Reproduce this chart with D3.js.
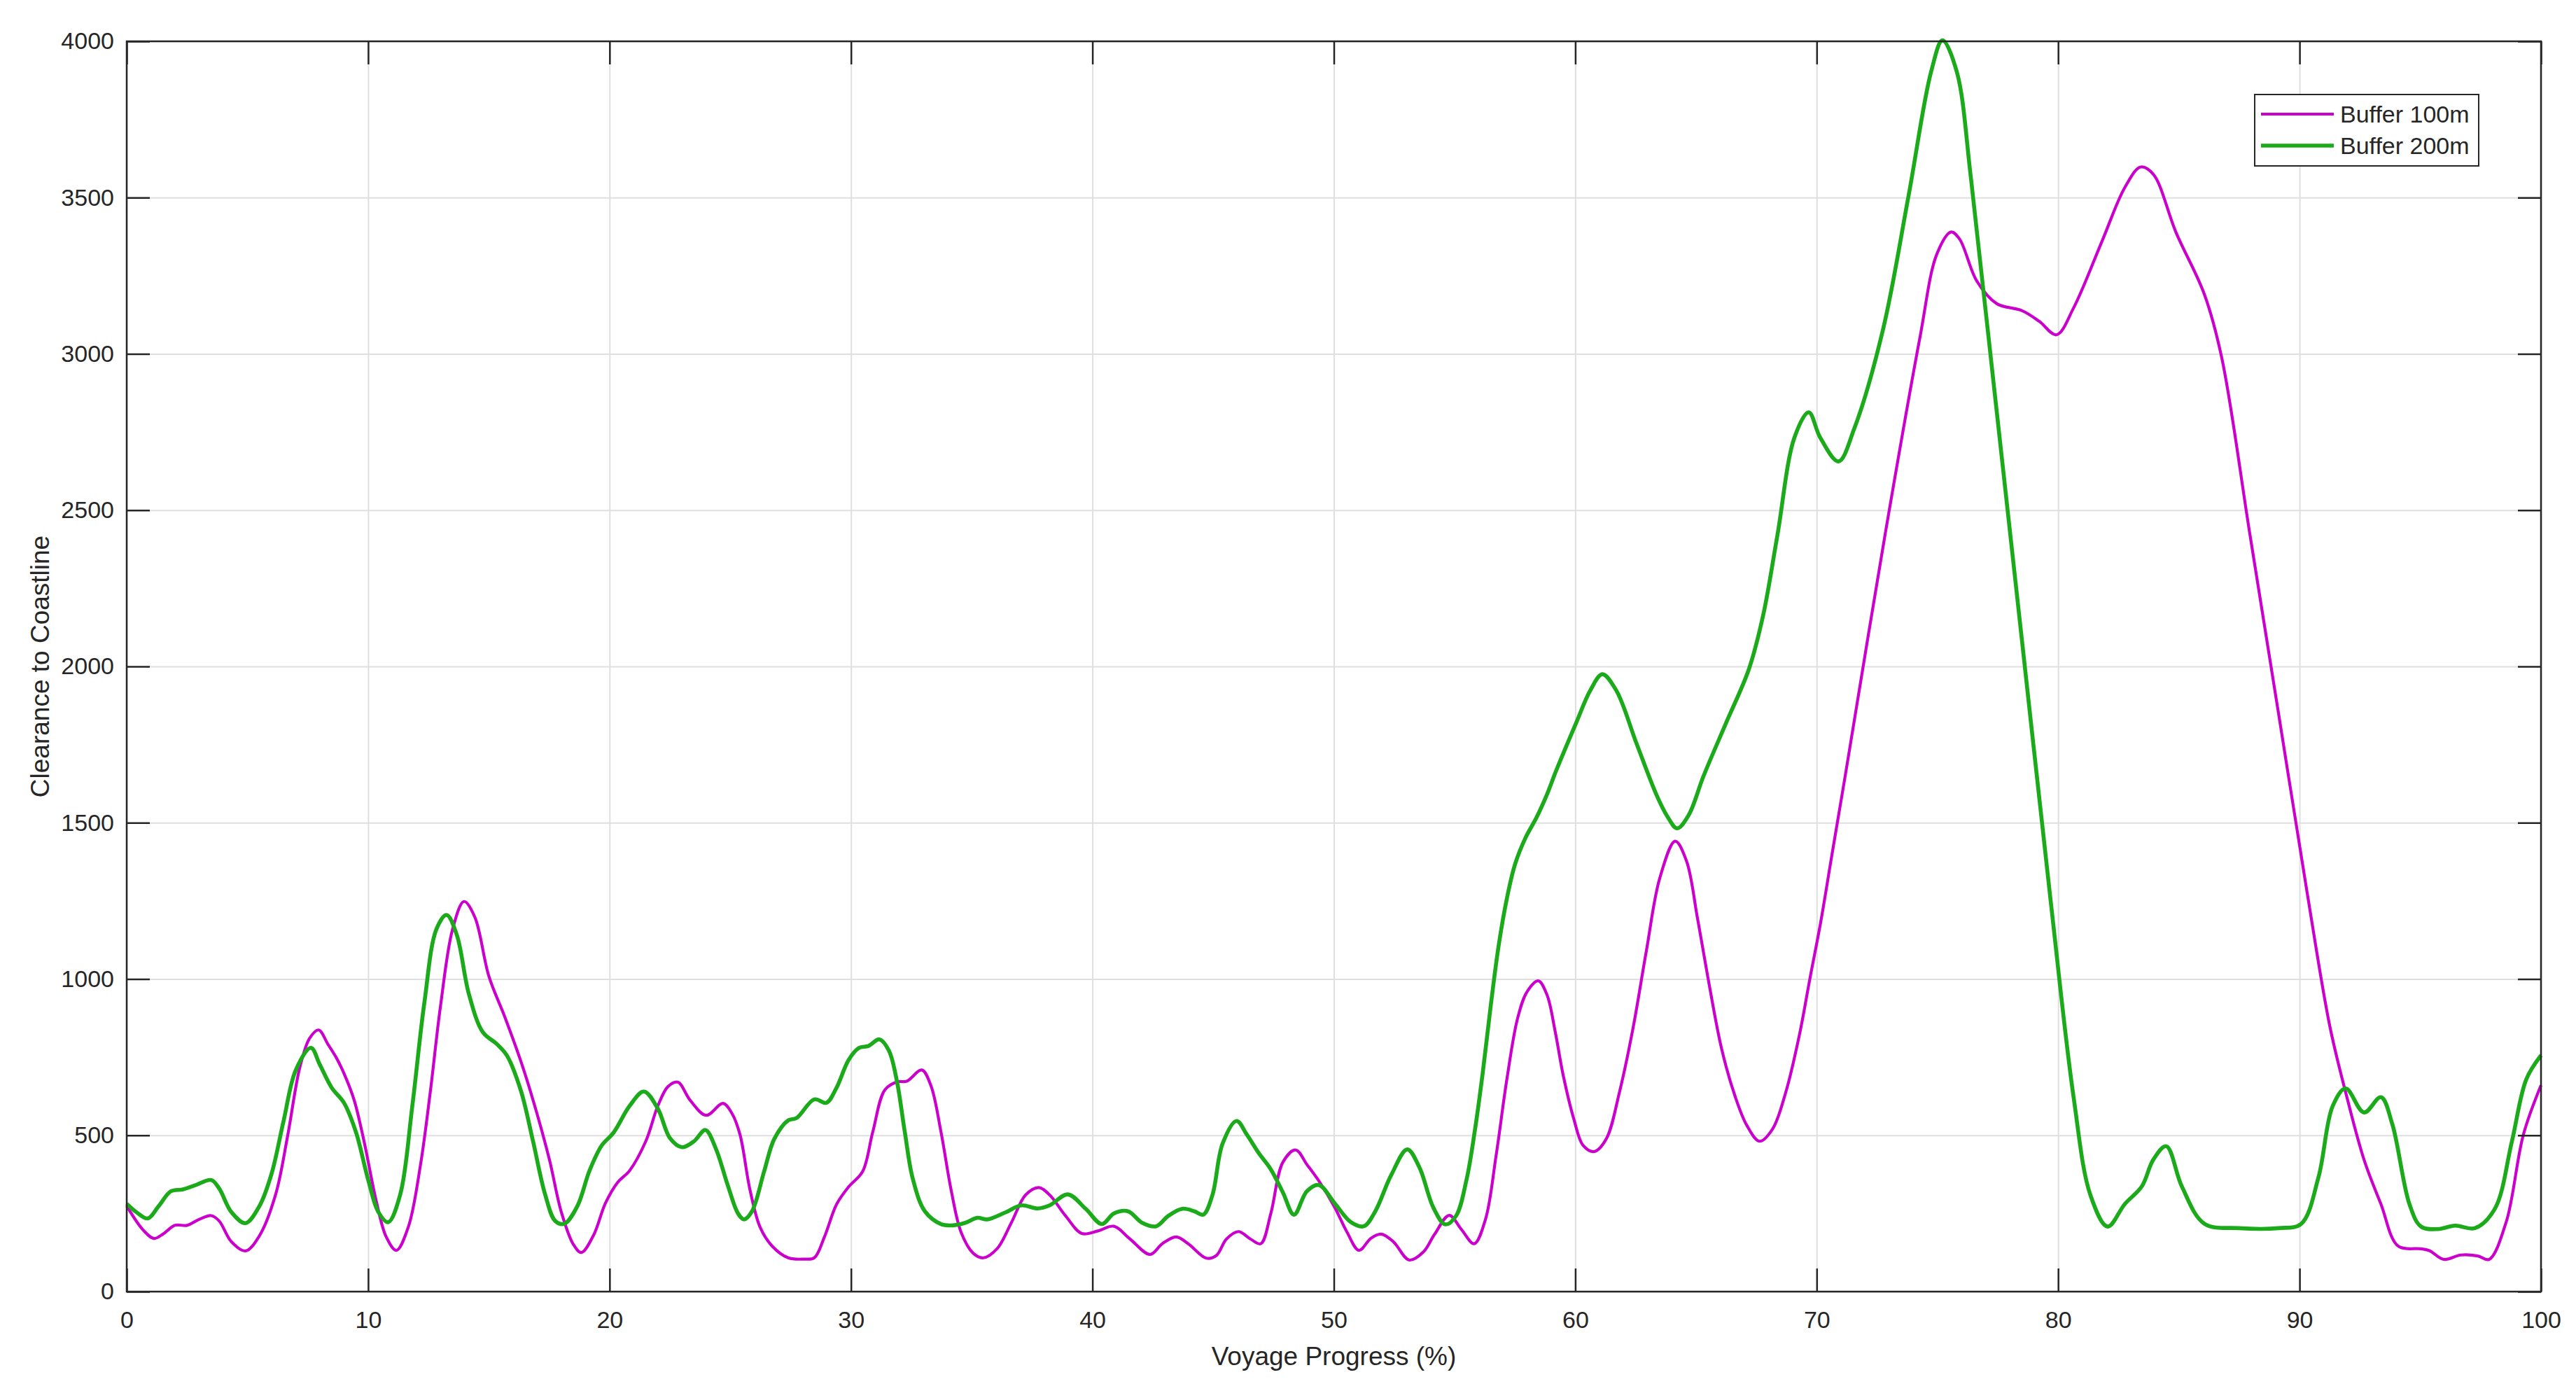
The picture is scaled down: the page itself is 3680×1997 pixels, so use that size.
<!DOCTYPE html>
<html>
<head>
<meta charset="utf-8">
<script src="https://cdn.jsdelivr.net/npm/d3@7"></script>
<style>
  html, body { margin: 0; padding: 0; background: #ffffff; }
  svg { display: block; }
  text { font-family: "Liberation Sans", Arial, Helvetica, sans-serif; fill: #262626; }
</style>
</head>
<body>
<svg id="chart" width="3680" height="1997"></svg>
<script>
// ---- data ----
const seriesNames = ["Buffer 100m", "Buffer 200m"];
const seriesColors = ["#cc00cc", "#1aaa1a"];

const progress100 = [0, 0.67, 1.13, 1.5, 2, 2.5, 3, 3.5, 3.83, 4.33, 4.92, 5.5, 6.17, 6.67, 7.17, 7.58, 7.95, 8.33, 8.67, 9, 9.42, 9.83, 10.33, 10.75, 11.17, 11.67, 12.17, 12.58, 13, 13.5, 13.97, 14.42, 15, 15.67, 16.33, 16.83, 17.5, 18, 18.5, 18.83, 19.33, 19.83, 20.33, 20.83, 21.5, 22, 22.42, 22.83, 23.33, 24, 24.7, 25.07, 25.4, 25.82, 26.24, 26.74, 27.4, 28.07, 28.48, 28.9, 29.4, 29.9, 30.48, 30.9, 31.4, 31.9, 32.31, 32.93, 33.31, 33.73, 34.15, 34.56, 35.06, 35.48, 36.06, 36.64, 37.23, 37.78, 38.23, 38.89, 39.56, 40.22, 40.89, 41.56, 42.39, 42.89, 43.47, 43.97, 44.72, 45.14, 45.55, 46.05, 46.55, 46.97, 47.39, 47.89, 48.42, 48.89, 49.38, 50.04, 50.54, 51.04, 51.54, 51.96, 52.46, 53.12, 53.71, 54.17, 54.78, 55.28, 55.81, 56.28, 56.72, 57.17, 57.61, 58, 58.47, 58.83, 59.17, 59.5, 59.94, 60.33, 60.78, 61.28, 61.83, 62.39, 62.94, 63.5, 64.14, 64.61, 65.06, 65.5, 66.06, 66.61, 67.11, 67.63, 68.17, 68.72, 69.28, 69.72, 70.17, 70.61, 71.17, 72.85, 74.27, 74.98, 75.57, 75.92, 76.63, 77.45, 78.51, 79.22, 79.93, 80.64, 81.82, 82.76, 83.42, 83.94, 84.88, 86.06, 86.77, 87.95, 89.13, 90.31, 91.25, 91.96, 92.67, 93.37, 94.08, 95.03, 95.38, 95.97, 96.68, 97.38, 97.85, 98.56, 99.27, 100];
const clearance100 = [274, 198, 170, 184, 212, 212, 231, 243, 226, 160, 130, 179, 311, 500, 717, 811, 837, 792, 750, 698, 613, 481, 292, 175, 132, 208, 406, 642, 915, 1160, 1248, 1198, 1009, 877, 736, 613, 425, 255, 151, 125, 179, 283, 349, 387, 481, 594, 656, 670, 613, 564, 602, 570, 503, 324, 205, 145, 108, 104, 108, 175, 279, 335, 384, 510, 645, 671, 673, 709, 659, 510, 324, 190, 123, 108, 138, 220, 309, 333, 309, 242, 186, 194, 209, 168, 119, 153, 175, 153, 107, 116, 168, 192, 168, 153, 250, 414, 453, 406, 354, 269, 191, 132, 171, 184, 160, 101, 127, 183, 244, 199, 153, 231, 435, 681, 874, 959, 994, 949, 831, 692, 552, 467, 448, 488, 638, 842, 1088, 1323, 1441, 1377, 1195, 1002, 777, 627, 531, 481, 520, 638, 820, 1002, 1184, 1388, 1645, 2430, 3050, 3320, 3390, 3367, 3233, 3161, 3138, 3104, 3061, 3147, 3361, 3532, 3598, 3575, 3389, 3190, 2990, 2419, 1849, 1278, 850, 622, 422, 280, 146, 137, 131, 103, 117, 114, 103, 223, 502, 660];

const progress200 = [0, 0.42, 0.87, 1.33, 1.83, 2.33, 2.83, 3.5, 3.83, 4.33, 4.92, 5.5, 6, 6.5, 7, 7.63, 8, 8.5, 9, 9.5, 10, 10.42, 10.83, 11.33, 11.83, 12.33, 12.83, 13.25, 13.67, 14.17, 14.75, 15.33, 15.75, 16.33, 16.83, 17.33, 17.75, 18.13, 18.67, 19.17, 19.67, 20.17, 20.83, 21.42, 22, 22.5, 23, 23.5, 23.97, 24.4, 24.9, 25.32, 25.57, 25.9, 26.4, 26.82, 27.4, 27.74, 28.48, 28.98, 29.4, 29.9, 30.32, 30.73, 31.18, 31.57, 31.9, 32.23, 32.56, 33.06, 33.73, 34.23, 34.73, 35.23, 35.65, 36.39, 37.06, 37.73, 38.23, 38.98, 39.72, 40.39, 40.89, 41.47, 42.06, 42.64, 43.14, 43.72, 44.22, 44.59, 44.97, 45.39, 45.97, 46.39, 46.89, 47.39, 47.89, 48.35, 48.88, 49.38, 50.04, 50.71, 51.24, 51.71, 52.37, 53.04, 53.54, 54.12, 54.61, 55.06, 55.5, 55.83, 56.17, 56.5, 56.83, 57.17, 57.5, 57.94, 58.39, 58.83, 59.2, 60.04, 60.62, 61.12, 61.7, 62.53, 63.36, 63.8, 64.22, 64.7, 65.31, 66.25, 67.19, 67.78, 68.37, 69.08, 69.67, 70.14, 70.9, 71.56, 72.74, 73.8, 74.74, 75.21, 75.8, 76.39, 77.33, 78.51, 79.69, 80.64, 81.34, 82.05, 82.76, 83.47, 83.94, 84.48, 85.12, 86.06, 87.48, 89.13, 90.07, 90.78, 91.37, 91.91, 92.67, 93.37, 93.84, 94.55, 95.03, 95.73, 96.44, 97.26, 98.09, 98.79, 99.39, 100];
const clearance200 = [281, 253, 234, 274, 321, 327, 340, 357, 330, 255, 219, 274, 377, 547, 708, 780, 726, 651, 604, 509, 358, 255, 222, 311, 594, 925, 1160, 1205, 1142, 953, 830, 792, 755, 642, 481, 311, 226, 217, 274, 387, 467, 509, 594, 640, 585, 491, 462, 481, 517, 458, 339, 250, 231, 257, 384, 488, 548, 555, 615, 604, 652, 741, 779, 786, 807, 771, 674, 510, 361, 257, 216, 212, 220, 236, 231, 253, 276, 266, 276, 311, 265, 216, 250, 257, 220, 209, 242, 265, 257, 246, 309, 473, 546, 503, 443, 391, 317, 246, 321, 341, 282, 222, 209, 256, 372, 455, 398, 269, 215, 242, 360, 510, 702, 916, 1109, 1259, 1366, 1452, 1516, 1591, 1665, 1820, 1923, 1975, 1923, 1755, 1590, 1522, 1482, 1525, 1649, 1820, 1991, 2163, 2419, 2733, 2813, 2733, 2656, 2762, 3076, 3504, 3903, 4003, 3903, 3561, 2904, 2077, 1250, 622, 308, 208, 280, 337, 422, 465, 337, 217, 203, 203, 217, 365, 593, 650, 573, 622, 536, 280, 208, 200, 211, 203, 265, 479, 679, 756];

const xTicks = [0, 10, 20, 30, 40, 50, 60, 70, 80, 90, 100];
const yTicks = [0, 500, 1000, 1500, 2000, 2500, 3000, 3500, 4000];
const xLabel = "Voyage Progress (%)";
const yLabel = "Clearance to Coastline";

// ---- layout ----
const plotL = 181, plotR = 3630, plotT = 59, plotB = 1845;
const svg = d3.select("#chart");

const x = d3.scaleLinear().domain([0, 100]).range([plotL, plotR]);
const y = d3.scaleLinear().domain([0, 4000]).range([plotB, plotT]);

// grid
const grid = svg.append("g").attr("class", "grid");
grid.append("g").attr("transform", `translate(0,${plotB})`)
  .call(d3.axisBottom(x).tickValues(xTicks).tickSize(-(plotB - plotT)).tickFormat(""))
  .call(g => g.select(".domain").remove())
  .call(g => g.selectAll("line").attr("stroke", "#dfdfdf").attr("stroke-width", 2));
grid.append("g").attr("transform", `translate(${plotL},0)`)
  .call(d3.axisLeft(y).tickValues(yTicks).tickSize(-(plotR - plotL)).tickFormat(""))
  .call(g => g.select(".domain").remove())
  .call(g => g.selectAll("line").attr("stroke", "#dfdfdf").attr("stroke-width", 2));

// lines
const series = [
  { name: seriesNames[0], color: seriesColors[0], width: 4.2, xs: progress100, ys: clearance100 },
  { name: seriesNames[1], color: seriesColors[1], width: 5.6, xs: progress200, ys: clearance200 }
];
const n100 = Math.min(progress100.length, clearance100.length);
const n200 = Math.min(progress200.length, clearance200.length);
series[0].n = n100; series[1].n = n200;
const line = d3.line().x(d => x(d[0])).y(d => y(d[1])).curve(d3.curveCatmullRom.alpha(0.5));
series.forEach(s => {
  svg.append("path")
    .datum(s.xs.slice(0, s.n).map((v, i) => [v, s.ys[i]]))
    .attr("fill", "none")
    .attr("stroke", s.color)
    .attr("stroke-width", s.width)
    .attr("stroke-linejoin", "round")
    .attr("d", line);
});

// axes (ticks inward on all sides)
const axisColor = "#262626";
const tickLen = 33;
function styleAxis(g) {
  g.select(".domain").remove();
  g.selectAll(".tick line").attr("stroke", axisColor).attr("stroke-width", 2.5);
  g.selectAll(".tick text").attr("font-size", 34).attr("fill", axisColor)
    .attr("font-family", '"Liberation Sans", Arial, Helvetica, sans-serif');
}
svg.append("g").attr("transform", `translate(0,${plotB})`)
  .call(d3.axisBottom(x).tickValues(xTicks).tickSizeInner(-tickLen).tickSizeOuter(0).tickPadding(28).tickFormat(d3.format("d")))
  .call(styleAxis);
svg.append("g").attr("transform", `translate(0,${plotT})`)
  .call(d3.axisTop(x).tickValues(xTicks).tickSizeInner(-tickLen).tickSizeOuter(0).tickFormat(""))
  .call(styleAxis);
svg.append("g").attr("transform", `translate(${plotL},0)`)
  .call(d3.axisLeft(y).tickValues(yTicks).tickSizeInner(-tickLen).tickSizeOuter(0).tickPadding(18).tickFormat(d3.format("d")))
  .call(styleAxis);
svg.append("g").attr("transform", `translate(${plotR},0)`)
  .call(d3.axisRight(y).tickValues(yTicks).tickSizeInner(-tickLen).tickSizeOuter(0).tickFormat(""))
  .call(styleAxis);

// box
svg.append("rect")
  .attr("x", plotL).attr("y", plotT)
  .attr("width", plotR - plotL).attr("height", plotB - plotT)
  .attr("fill", "none").attr("stroke", axisColor).attr("stroke-width", 2.5);

// axis labels
svg.append("text")
  .attr("x", (plotL + plotR) / 2).attr("y", 1950)
  .attr("text-anchor", "middle").attr("font-size", 37)
  .text(xLabel);
svg.append("text")
  .attr("transform", `translate(70,${(plotT + plotB) / 2}) rotate(-90)`)
  .attr("text-anchor", "middle").attr("font-size", 37)
  .text(yLabel);

// legend
const lg = svg.append("g");
lg.append("rect")
  .attr("x", 3221).attr("y", 135).attr("width", 320).attr("height", 102)
  .attr("fill", "#ffffff").attr("stroke", axisColor).attr("stroke-width", 2);
series.forEach((s, i) => {
  const ly = 163 + i * 45;
  lg.append("line")
    .attr("x1", 3230).attr("x2", 3334).attr("y1", ly).attr("y2", ly)
    .attr("stroke", s.color).attr("stroke-width", s.width);
  lg.append("text")
    .attr("x", 3343).attr("y", ly).attr("dy", "0.35em")
    .attr("font-size", 34).attr("fill", "#000000")
    .text(s.name);
});
</script>
</body>
</html>
